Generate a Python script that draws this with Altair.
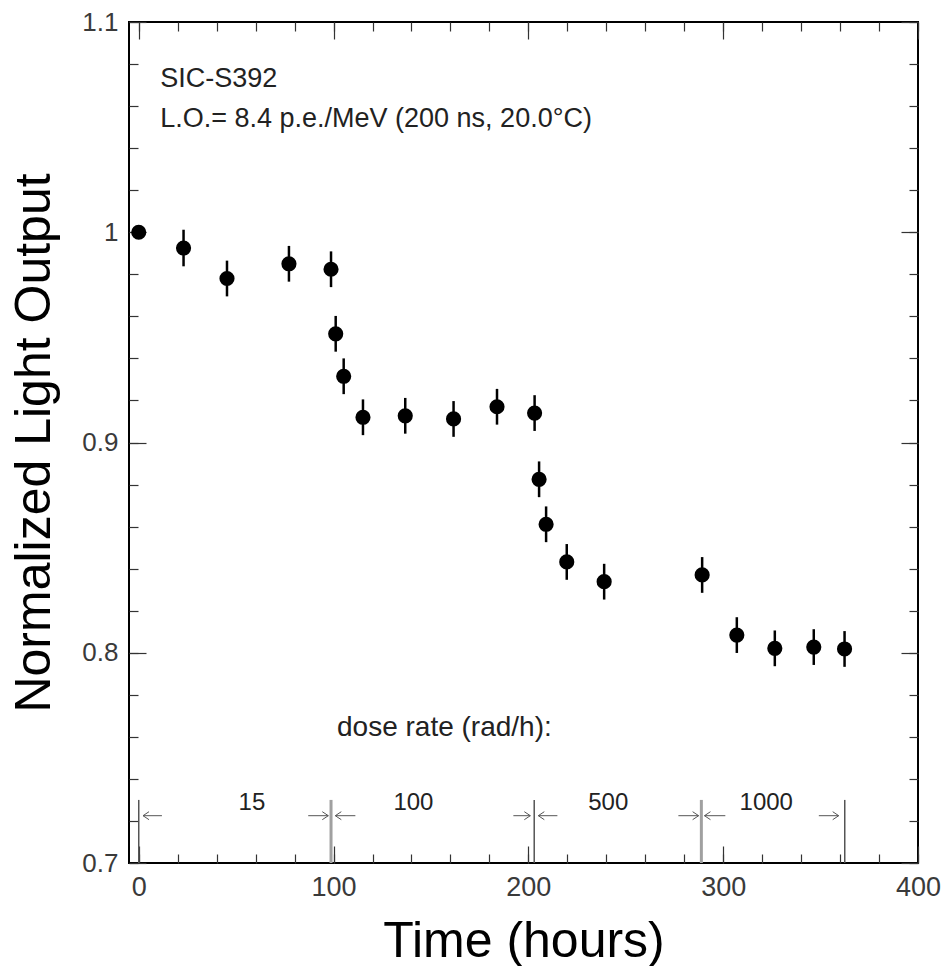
import altair as alt
import pandas as pd

# ---- data ----
time_h = [0.0, 23.0, 45.3, 77.1, 98.7, 101.1, 105.2, 115.1, 136.8, 161.6, 183.9,
          203.2, 205.5, 209.1, 219.7, 238.9, 289.2, 307.0, 326.5, 346.5, 362.3]
light = [1.000, 0.9925, 0.978, 0.985, 0.9824, 0.9517, 0.9315, 0.912, 0.9127, 0.9112, 0.917,
         0.914, 0.8825, 0.8611, 0.8432, 0.8338, 0.837, 0.8084, 0.8021, 0.8027, 0.8018]
err = [0.0, 0.0087, 0.0085, 0.0085, 0.0085, 0.0085, 0.0085, 0.0085, 0.0085, 0.0085, 0.0085,
       0.0085, 0.0085, 0.0085, 0.0085, 0.0085, 0.0085, 0.0085, 0.0085, 0.0085, 0.0085]

dose_change_t = [0.0, 98.7, 203.0, 288.8, 362.4]
dose_line_top = 0.730
dose_line_bottom = 0.700

arrow_from = [11.9, 87.0, 111.2, 192.3, 214.9, 277.0, 301.1, 349.1]
arrow_to = [2.2, 97.3, 100.9, 201.0, 205.1, 287.4, 290.4, 359.3]
arrow_level = 0.7225

dose_labels = ["15", "100", "500", "1000"]
dose_label_t = [58.1, 141.0, 241.0, 322.1]
dose_label_level = 0.7252

header_text = ["SIC-S392", "L.O.= 8.4 p.e./MeV (200 ns, 20.0\u00b0C)"]
header_t = [11.0, 11.0]
header_level = [1.0692, 1.0502]

dose_title = ["dose rate (rad/h):"]
dose_title_t = [156.9]
dose_title_level = [0.7604]

x_major = [0, 100, 200, 300, 400]
x_minor = [0, 20, 40, 60, 80, 100, 120, 140, 160, 180, 200, 220, 240, 260, 280,
           300, 320, 340, 360, 380, 400]
y_major = [0.7, 0.8, 0.9, 1.0, 1.1]
y_minor = [0.7, 0.72, 0.74, 0.76, 0.78, 0.8, 0.82, 0.84, 0.86, 0.88, 0.9, 0.92, 0.94,
           0.96, 0.98, 1.0, 1.02, 1.04, 1.06, 1.08, 1.1]

# ---- tables ----
pts = pd.DataFrame({"t": time_h, "v": light, "e": err})
pts["lo"] = pts["v"] - pts["e"]
pts["hi"] = pts["v"] + pts["e"]
bars = pts[pts["e"] > 0]

lines = pd.DataFrame({"t": dose_change_t, "lo": dose_line_bottom, "hi": dose_line_top,
                      "wide": [False, True, False, True, False]})
arrows = pd.DataFrame({"t": arrow_from, "t2": arrow_to, "v": arrow_level})
arrows["dir"] = ["right" if b > a else "left" for a, b in zip(arrow_from, arrow_to)]
dlab = pd.DataFrame({"t": dose_label_t, "v": dose_label_level, "txt": dose_labels})
head = pd.DataFrame({"t": header_t, "v": header_level, "txt": header_text})
dtitle = pd.DataFrame({"t": dose_title_t, "v": dose_title_level, "txt": dose_title})

FONT = "Liberation Sans, Arial, Helvetica, sans-serif"
xs = alt.Scale(domain=[-5, 400], nice=False, zero=False)
ys = alt.Scale(domain=[0.7, 1.1], nice=False, zero=False)


def ax(orient, values, size, labels=False, title=None, **kw):
    return alt.Axis(orient=orient, values=values, tickSize=size, offset=-size,
                    labels=labels, domain=False, grid=False, title=title,
                    tickColor="#333", tickWidth=1.2, labelFont=FONT,
                    labelColor="#3a3a3a", labelOverlap=False, labelFlush=False,
                    titleFont=FONT, titleFontWeight="normal", titleColor="black", **kw)


dose_lines = alt.Chart(lines).mark_rule().encode(
    x=alt.X("t:Q", scale=xs, axis=ax("top", x_major, 17)),
    y=alt.Y("lo:Q", scale=ys, axis=ax("right", y_major, 17)),
    y2="hi:Q",
    strokeWidth=alt.condition("datum.wide", alt.value(3), alt.value(1.5)),
    color=alt.condition("datum.wide", alt.value("#a0a0a0"), alt.value("#555555")),
)

shafts = alt.Chart(arrows).mark_rule(color="#555555", strokeWidth=1).encode(
    x=alt.X("t:Q", scale=xs, axis=ax("top", x_minor, 9)),
    x2="t2:Q",
    y=alt.Y("v:Q", scale=ys, axis=ax("right", y_minor, 9)),
)

heads = alt.Chart(arrows).mark_point(filled=False, color="#555555", strokeWidth=1,
                                     size=64, opacity=1).encode(
    x=alt.X("t2:Q", scale=xs, axis=None),
    y=alt.Y("v:Q", scale=ys, axis=None),
    shape=alt.Shape("dir:N", legend=None,
                    scale=alt.Scale(domain=["right", "left"],
                                    range=["M-1.5,-1L0,0L-1.5,1", "M1.5,-1L0,0L1.5,1"])),
)

errbars = alt.Chart(bars).mark_rule(color="black", strokeWidth=2.5).encode(
    x=alt.X("t:Q", scale=xs, axis=ax("bottom", x_minor, 9)),
    y=alt.Y("lo:Q", scale=ys, axis=ax("left", y_minor, 9)),
    y2="hi:Q",
)

points = alt.Chart(pts).mark_circle(color="black", size=230, opacity=1).encode(
    x=alt.X("t:Q", scale=xs,
            axis=ax("bottom", x_major, 17, labels=True, title="Time (hours)",
                    labelFontSize=27, labelPadding=11, format="d",
                    titleFontSize=50, titlePadding=16)),
    y=alt.Y("v:Q", scale=ys,
            axis=ax("left", y_major, 17, labels=True, title="Normalized Light Output",
                    labelFontSize=26, labelPadding=11, format="~g",
                    titleFontSize=50, titlePadding=22)),
)

dose_text = alt.Chart(dlab).mark_text(font=FONT, fontSize=24, color="#222222",
                                      baseline="alphabetic", align="center").encode(
    x=alt.X("t:Q", scale=xs, axis=None),
    y=alt.Y("v:Q", scale=ys, axis=None),
    text="txt:N",
)

head_text = alt.Chart(head).mark_text(font=FONT, fontSize=27, color="#222222",
                                      baseline="alphabetic", align="left").encode(
    x=alt.X("t:Q", scale=xs, axis=None),
    y=alt.Y("v:Q", scale=ys, axis=None),
    text="txt:N",
)

dose_title_text = alt.Chart(dtitle).mark_text(font=FONT, fontSize=28, color="#222222",
                                              baseline="alphabetic", align="center").encode(
    x=alt.X("t:Q", scale=xs, axis=None),
    y=alt.Y("v:Q", scale=ys, axis=None),
    text="txt:N",
)

chart = alt.layer(
    dose_lines, shafts, heads, errbars, points, dose_text, head_text, dose_title_text
).resolve_axis(x="independent", y="independent").properties(
    width=789, height=841,
    autosize=alt.AutoSizeParams(type="none"),
    padding={"left": 129, "top": 22, "right": 24, "bottom": 103},
    background="white",
).configure_view(stroke="black", strokeWidth=2)

chart.save("out.html", embed_options={"renderer": "svg", "actions": False})
